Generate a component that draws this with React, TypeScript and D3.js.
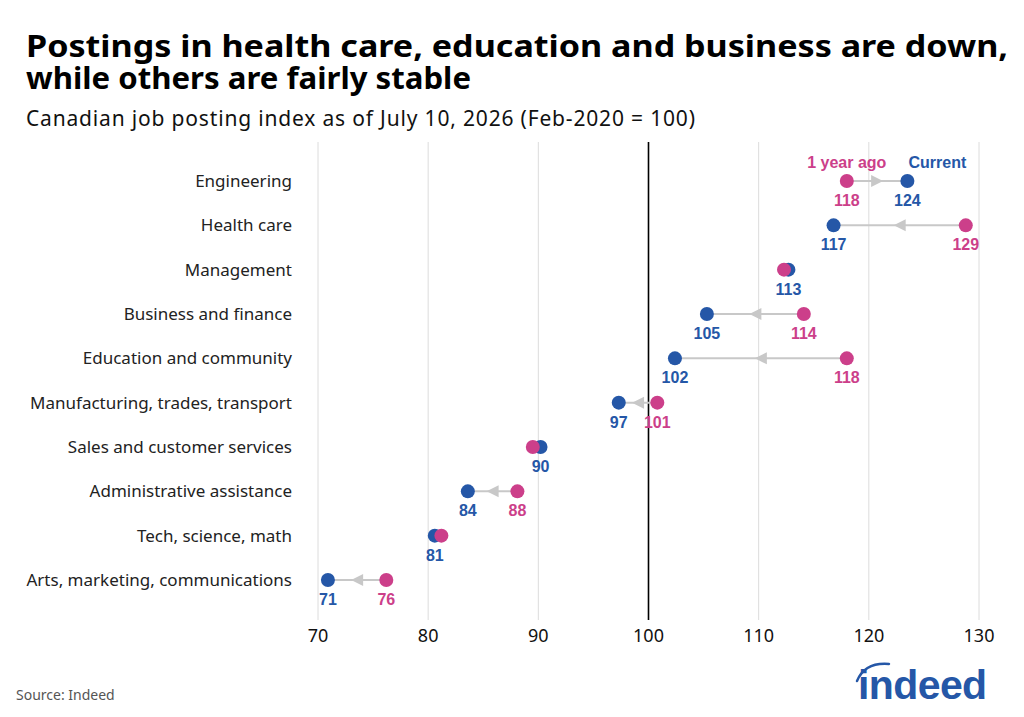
import React from "react";
import * as d3 from "d3";

const categories = [
  "Engineering",
  "Health care",
  "Management",
  "Business and finance",
  "Education and community",
  "Manufacturing, trades, transport",
  "Sales and customer services",
  "Administrative assistance",
  "Tech, science, math",
  "Arts, marketing, communications",
];
const current = [123.5, 116.8, 112.7, 105.3, 102.4, 97.3, 90.2, 83.6, 80.6, 70.9];
const yearAgo = [118.0, 128.8, 112.3, 114.1, 118.0, 100.8, 89.5, 88.1, 81.2, 76.2];
const currentLabels = ["124", "117", "113", "105", "102", "97", "90", "84", "81", "71"];
const yearAgoLabels = ["118", "129", "", "114", "118", "101", "", "88", "", "76"];
const xTicks = [70, 80, 90, 100, 110, 120, 130];

const BLUE = "#2557a7";
const PINK = "#cc3f8a";
const SANS = "'Noto Sans', 'Open Sans', sans-serif";
const LABEL_FONT = "'Liberation Sans', Arial, sans-serif";

const App = () => {
  const x = d3.scaleLinear().domain([70, 130]).range([318, 979]);
  const y = d3.scalePoint<string>().domain(categories).range([181, 580]);

  const top = 142;
  const bottom = 620;

  return (
    <svg width={1024} height={717} style={{ display: "block", position: "absolute", left: 0, top: 0 }}>
      <rect width={1024} height={717} fill="#fff" />
      <text x={26} y={57} fontFamily={SANS} fontWeight={700} fontSize={31} fill="#000" textLength={982} lengthAdjust="spacingAndGlyphs">
        Postings in health care, education and business are down,
      </text>
      <text x={26} y={89} fontFamily={SANS} fontWeight={700} fontSize={31} fill="#000" textLength={445} lengthAdjust="spacingAndGlyphs">
        while others are fairly stable
      </text>
      <text x={26} y={126} fontFamily={SANS} fontSize={21} fill="#111" textLength={669} lengthAdjust="spacing">
        Canadian job posting index as of July 10, 2026 (Feb-2020 = 100)
      </text>

      {/* grid */}
      {xTicks.map((t) => (
        <g key={t}>
          <line
            x1={x(t)}
            x2={x(t)}
            y1={top}
            y2={bottom}
            stroke={t === 100 ? "#000" : "#dcdcdc"}
            strokeWidth={t === 100 ? 1.6 : 1}
          />
          <text x={x(t)} y={642} textAnchor="middle" fontFamily={SANS} fontSize={18} fill="#111">
            {t}
          </text>
        </g>
      ))}

      {/* category labels */}
      {categories.map((c) => (
        <text key={c} x={292} y={y(c)!} dy="0.35em" textAnchor="end" fontFamily={SANS} fontSize={17} fill="#222">
          {c}
        </text>
      ))}

      {/* connectors with arrow */}
      {categories.map((c, i) => {
        const cy = y(c)!;
        const x0 = x(yearAgo[i]);
        const x1 = x(current[i]);
        const mid = (x0 + x1) / 2;
        const dir = x1 > x0 ? 1 : -1;
        const big = Math.abs(x1 - x0) > 14;
        return (
          <g key={c}>
            <line x1={x0} x2={x1} y1={cy} y2={cy} stroke="#c8c8c8" strokeWidth={2} />
            {big && (
              <path
                d={`M${mid + dir * 6},${cy} L${mid - dir * 6},${cy - 6} L${mid - dir * 6},${cy + 6} Z`}
                fill="#c8c8c8"
              />
            )}
          </g>
        );
      })}

      {/* dots */}
      {categories.map((c, i) => (
        <circle key={"c" + c} cx={x(current[i])} cy={y(c)!} r={7} fill={BLUE} />
      ))}
      {categories.map((c, i) => (
        <circle key={"p" + c} cx={x(yearAgo[i])} cy={y(c)!} r={7} fill={PINK} />
      ))}

      {/* value labels */}
      {categories.map((c, i) => (
        <g key={"l" + c} fontFamily={LABEL_FONT} fontWeight={700} fontSize={16} textAnchor="middle">
          <text x={x(current[i])} y={y(c)! + 25} fill={BLUE}>
            {currentLabels[i]}
          </text>
          {yearAgoLabels[i] && (
            <text x={x(yearAgo[i])} y={y(c)! + 25} fill={PINK}>
              {yearAgoLabels[i]}
            </text>
          )}
        </g>
      ))}

      {/* legend */}
      <g fontFamily={LABEL_FONT} fontWeight={700} fontSize={16} textAnchor="middle">
        <text x={x(yearAgo[0])} y={168} fill={PINK}>
          1 year ago
        </text>
        <text x={x(current[0]) + 30} y={168} fill={BLUE}>
          Current
        </text>
      </g>

      <text x={16} y={700} fontFamily={SANS} fontSize={14} fill="#555">
        Source: Indeed
      </text>

      {/* logo */}
      <g fill={BLUE}>
        <text x={858} y={699} fontFamily={LABEL_FONT} fontWeight={700} fontSize={41} letterSpacing={-0.6}>
          indeed
        </text>
        <path d="M857,681 Q865,662 889,664" fill="none" stroke={BLUE} strokeWidth={2.5} strokeLinecap="round" />
      </g>
    </svg>
  );
};

export default App;
